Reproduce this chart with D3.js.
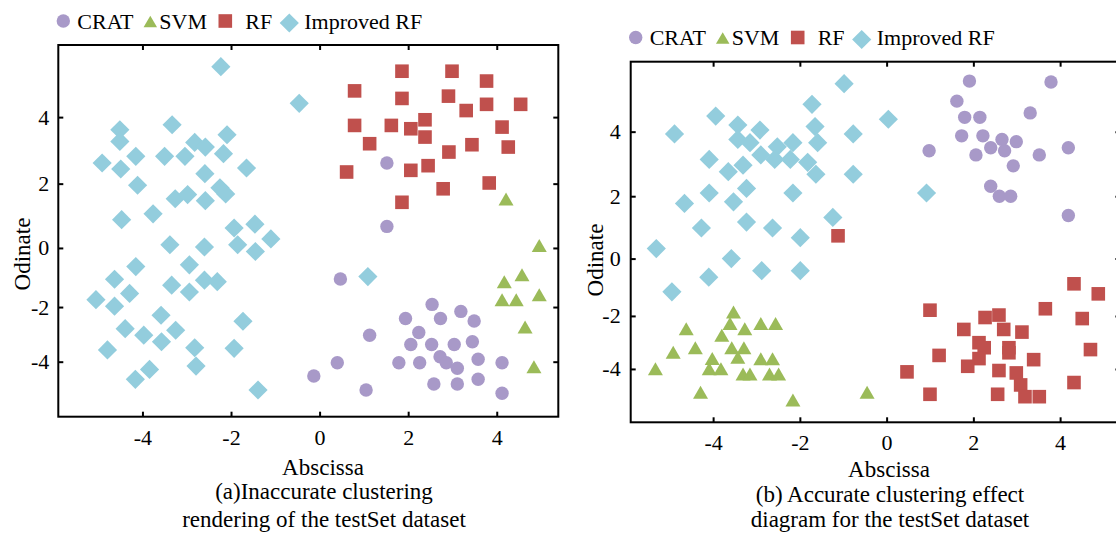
<!DOCTYPE html>
<html>
<head>
<meta charset="utf-8">
<script src="https://cdn.jsdelivr.net/npm/d3@7"></script>
<style>
  body { margin: 0; background: #fff; }
  svg { display: block; }
  text { font-family: "Liberation Serif", "DejaVu Serif", serif; fill: #000; }
</style>
</head>
<body>
<div class="vis-cluster"></div>
<script>
// series names + colours
var categories = ["CRAT", "SVM", "RF", "Improved RF"];
var colors = ["#a899c8", "#9bbb59", "#c0504d", "#93cddd"];

var xTicks = [-4, -2, 0, 2, 4];
var yTicks = [-4, -2, 0, 2, 4];

// (a) inaccurate clustering, [x, y]
var leftCrat = [[1.52,2.62],[1.52,0.67],[0.47,-1.05],[2.54,-1.91],[3.19,-2.16],[1.94,-2.42],[2.73,-2.42],[3.49,-2.51],[2.24,-2.93],[1.13,-3.03],[2.06,-3.37],[2.53,-3.37],[3.04,-3.37],[3.45,-3.27],[2.72,-3.82],[2.86,-4.04],[1.79,-4.04],[2.26,-4.04],[0.40,-4.04],[3.11,-4.24],[3.58,-3.91],[4.12,-4.04],[-0.13,-4.52],[2.58,-4.81],[3.11,-4.81],[3.58,-4.64],[1.05,-5.03],[4.12,-5.15]];
var leftSvm = [[4.21,1.52],[4.96,0.08],[4.17,-1.14],[4.57,-0.91],[4.96,-1.58],[4.12,-1.75],[4.44,-1.75],[4.64,-2.73],[4.84,-4.18]];
var leftRf = [[1.86,5.40],[2.99,5.40],[3.77,5.10],[0.79,4.80],[1.86,4.57],[2.91,4.64],[3.77,4.39],[4.54,4.39],[3.31,4.20],[0.79,3.75],[1.62,3.75],[2.06,3.65],[2.38,3.92],[2.38,3.40],[4.12,3.70],[1.13,3.20],[3.44,3.17],[4.26,3.10],[2.92,2.95],[0.61,2.35],[2.06,2.40],[2.45,2.54],[3.83,2.02],[2.79,1.84],[1.86,1.42]];
var leftImproved = [[-2.23,5.54],[-0.46,4.42],[-4.51,3.62],[-3.33,3.77],[-4.51,3.27],[-2.82,3.24],[-2.58,3.10],[-2.09,3.47],[-4.91,2.62],[-4.49,2.44],[-4.15,2.82],[-3.50,2.82],[-3.04,2.82],[-2.17,2.90],[-1.65,2.47],[-2.59,2.30],[-4.11,1.95],[-2.25,1.87],[-2.12,1.68],[-3.26,1.53],[-2.98,1.66],[-2.58,1.47],[-3.76,1.06],[-4.47,0.88],[-1.93,0.62],[-1.46,0.74],[-1.10,0.28],[-3.38,0.10],[-2.60,0.03],[-1.85,0.10],[-1.45,-0.12],[-4.15,-0.63],[-2.94,-0.57],[-4.63,-1.06],[-3.34,-1.26],[-2.60,-1.09],[-2.31,-1.14],[1.09,-0.97],[-5.05,-1.75],[-4.29,-1.54],[-2.94,-1.49],[-4.63,-1.97],[-3.58,-2.30],[-1.73,-2.52],[-4.39,-2.79],[-3.25,-2.85],[-3.97,-3.03],[-3.57,-3.27],[-2.82,-3.49],[-1.93,-3.51],[-4.79,-3.57],[-2.79,-4.16],[-3.84,-4.28],[-4.16,-4.64],[-1.39,-5.03]];

// (b) accurate clustering, [x, y]
var rightCrat = [[1.91,5.59],[3.79,5.56],[1.62,4.96],[1.80,4.45],[2.15,4.45],[3.31,4.59],[1.73,3.87],[2.22,3.87],[2.66,3.76],[2.99,3.69],[0.98,3.41],[2.40,3.50],[2.72,3.41],[2.06,3.28],[3.52,3.28],[4.19,3.50],[2.92,2.94],[2.40,2.31],[2.60,2.00],[2.86,2.00],[4.19,1.38]];
var rightSvm = [[-3.53,-1.86],[-4.62,-2.48],[-3.61,-2.29],[-3.27,-2.48],[-2.90,-2.29],[-2.56,-2.29],[-3.80,-2.73],[-4.92,-3.37],[-4.41,-3.20],[-3.57,-3.20],[-3.29,-3.20],[-3.43,-3.56],[-4.02,-3.61],[-2.90,-3.62],[-2.63,-3.62],[-5.33,-3.99],[-4.09,-3.99],[-3.82,-3.99],[-3.31,-4.19],[-3.15,-4.19],[-2.70,-4.19],[-2.49,-4.19],[-4.29,-4.87],[-2.16,-5.16],[-0.45,-4.87]];
var rightRf = [[-1.12,0.73],[4.32,-0.88],[4.88,-1.23],[1.00,-1.80],[3.66,-1.75],[2.59,-1.97],[2.27,-2.06],[4.51,-2.10],[1.78,-2.51],[2.70,-2.51],[3.12,-2.61],[2.13,-3.01],[2.25,-3.20],[2.82,-3.20],[2.82,-3.39],[4.70,-3.27],[1.21,-3.49],[2.13,-3.61],[3.39,-3.65],[1.87,-3.90],[0.47,-4.11],[2.59,-4.06],[2.99,-4.15],[4.32,-4.51],[3.09,-4.60],[1.00,-4.95],[2.56,-4.95],[3.19,-5.04],[3.52,-5.04]];
var rightImproved = [[-4.89,3.93],[-3.94,4.49],[-3.43,4.21],[-3.43,3.76],[-3.15,3.66],[-2.92,4.05],[-2.90,3.28],[-2.52,3.53],[-2.58,3.14],[-2.16,3.66],[-2.22,3.14],[-1.72,4.86],[-1.65,4.16],[-1.59,3.66],[-1.82,3.05],[-1.63,2.68],[-0.98,5.51],[-0.77,3.93],[-0.77,2.68],[0.04,4.39],[0.92,2.10],[-4.09,3.14],[-3.65,2.76],[-3.31,2.96],[-4.09,2.10],[-3.23,2.24],[-3.53,1.82],[-2.16,2.10],[-4.66,1.77],[-4.27,0.98],[-3.23,1.17],[-2.63,0.98],[-1.99,0.67],[-1.24,1.32],[-5.31,0.32],[-3.58,0.00],[-2.88,-0.42],[-1.99,-0.42],[-4.10,-0.65],[-4.95,-1.16]];

var captionsA = ["(a)Inaccurate clustering", "rendering of the testSet dataset"];
var captionsB = ["(b) Accurate clustering effect", "diagram for the testSet dataset"];

var W = 1116, H = 533;

var svg = d3.select(".vis-cluster")
  .append("svg")
    .attr("width", W)
    .attr("height", H);

// the y axis in the source picture is slightly squeezed towards the bottom,
// so the y scale is piecewise linear on the tick values
var yDomain = [6.2, 4, 2, 0, -2, -4, -6];
var yFrac = [0, 0.194, 0.373, 0.546, 0.705, 0.852, 1];

var panels = [
  {left: 58.3, top: 45, width: 500, height: 371.7,
   series: [leftCrat, leftSvm, leftRf, leftImproved], captions: captionsA,
   legendY: 21, xPad: 13, yPad: 9, yTitleX: 30, yTitleY: 254,
   xTitleX: 323, xTitleY: 475, capY: [499, 526.5]},
  {left: 630.7, top: 61.7, width: 489.7, height: 360.6,
   series: [rightCrat, rightSvm, rightRf, rightImproved], captions: captionsB,
   legendY: 37.5, xPad: 12, yPad: 10, yTitleX: 603, yTitleY: 260,
   xTitleX: 889, xTitleY: 476.5, capY: [501.5, 527]}
];

// legend offsets from the plot's left edge: [symbol, text]
var legendOffsets = [[5, 19], [92, 101], [167, 187], [231, 246]];

function marker(sel, k, size) {
  // size ~ 1 for the plot markers
  var s = size || 1;
  if (k === 0) {
    sel.append("circle").attr("r", 6.7 * s);
  } else if (k === 1) {
    var w = 7.5 * s, h = 6.5 * s;
    sel.append("path").attr("d", "M0," + (-h) + "L" + w + "," + h + "L" + (-w) + "," + h + "Z");
  } else if (k === 2) {
    var a = 6.8 * s;
    sel.append("rect").attr("x", -a).attr("y", -a).attr("width", 2 * a).attr("height", 2 * a);
  } else {
    var d = 9.6 * s;
    sel.append("path").attr("d", "M0," + (-d) + "L" + d + ",0L0," + d + "L" + (-d) + ",0Z");
  }
}

panels.forEach(function(p) {
  var x = d3.scaleLinear().domain([-5.9, 5.39]).range([0, p.width]);
  var y = d3.scaleLinear().domain(yDomain).range(yFrac.map(function(f) { return f * p.height; }));

  var g = svg.append("g")
    .attr("transform", "translate(" + p.left + "," + p.top + ")");

  // points
  p.series.forEach(function(pts, k) {
    g.append("g")
      .attr("fill", colors[k])
      .selectAll("g")
      .data(pts)
      .enter()
      .append("g")
        .attr("transform", function(d) { return "translate(" + x(d[0]) + "," + y(d[1]) + ")"; })
        .each(function() { marker(d3.select(this), k); });
  });

  var fmt = function(d) { return String(d); };

  // bottom axis, ticks pointing in
  var xb = g.append("g")
    .attr("transform", "translate(0," + p.height + ")")
    .call(d3.axisBottom(x).tickValues(xTicks).tickFormat(fmt).tickSizeInner(-5).tickSizeOuter(0).tickPadding(p.xPad));
  var xt = g.append("g")
    .call(d3.axisTop(x).tickValues(xTicks).tickFormat("").tickSizeInner(-5).tickSizeOuter(0));
  var yl = g.append("g")
    .call(d3.axisLeft(y).tickValues(yTicks).tickFormat(fmt).tickSizeInner(-5).tickSizeOuter(0).tickPadding(p.yPad));
  var yr = g.append("g")
    .attr("transform", "translate(" + p.width + ",0)")
    .call(d3.axisRight(y).tickValues(yTicks).tickFormat("").tickSizeInner(-5).tickSizeOuter(0));

  [xb, xt, yl, yr].forEach(function(a) {
    a.select(".domain").remove();
    a.selectAll(".tick line").attr("stroke", "#000").attr("stroke-width", 2);
    a.selectAll(".tick text")
      .attr("font-family", "Liberation Serif")
      .attr("font-size", 22)
      .attr("fill", "#000");
  });

  // frame
  g.append("rect")
    .attr("width", p.width)
    .attr("height", p.height)
    .attr("fill", "none")
    .attr("stroke", "#000")
    .attr("stroke-width", 2);

  // axis titles
  svg.append("text")
    .attr("x", p.xTitleX)
    .attr("y", p.xTitleY)
    .attr("text-anchor", "middle")
    .attr("font-size", 23)
    .text("Abscissa");

  svg.append("text")
    .attr("transform", "translate(" + p.yTitleX + "," + p.yTitleY + ") rotate(-90)")
    .attr("text-anchor", "middle")
    .attr("font-size", 23)
    .text("Odinate");

  p.captions.forEach(function(c, i) {
    svg.append("text")
      .attr("x", p.xTitleX + 1)
      .attr("y", p.capY[i])
      .attr("text-anchor", "middle")
      .attr("font-size", 23)
      .text(c);
  });

  // legend
  var lg = svg.append("g");
  categories.forEach(function(name, k) {
    var off = legendOffsets[k];
    var dy = k === 3 ? 2 : (k === 1 ? 0.5 : 0);
    lg.append("g")
      .attr("fill", colors[k])
      .attr("transform", "translate(" + (p.left + off[0]) + "," + (p.legendY + dy) + ")")
      .call(function(s) { marker(s, k, k === 1 ? 0.9 : 1); });
    lg.append("text")
      .attr("x", p.left + off[1])
      .attr("y", p.legendY + 7.5)
      .attr("font-size", 22)
      .text(name);
  });
});
</script>
</body>
</html>
